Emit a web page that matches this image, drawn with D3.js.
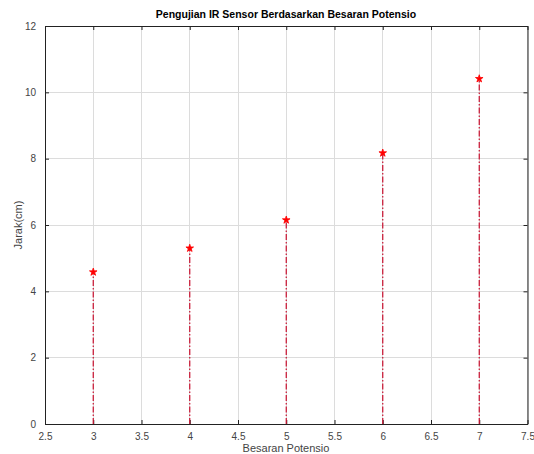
<!DOCTYPE html>
<html><head><meta charset="utf-8">
<script src="https://cdn.jsdelivr.net/npm/d3@7"></script>
<style>body{margin:0;background:#fff;}svg{display:block;}</style>
</head><body>
<script>
const xValues = [3, 4, 5, 6, 7];
const yValues = [4.58, 5.3, 6.15, 8.17, 10.41];
const xTicks = [2.5, 3, 3.5, 4, 4.5, 5, 5.5, 6, 6.5, 7, 7.5];
const yTicks = [0, 2, 4, 6, 8, 10, 12];
const titleText = "Pengujian IR Sensor Berdasarkan Besaran Potensio";
const xLabel = "Besaran Potensio";
const yLabel = "Jarak(cm)";

const W = 534, H = 454;
const m = {left: 45, right: 6.5, top: 26, bottom: 30};
const svg = d3.select("body").append("svg").attr("width", W).attr("height", H);
const x = d3.scaleLinear().domain([2.5, 7.5]).range([m.left, W - m.right]);
const y = d3.scaleLinear().domain([0, 12]).range([H - m.bottom, m.top]);
const font = "Liberation Sans, Arial, sans-serif";

// grid
svg.append("g").selectAll("line").data(xTicks).join("line")
  .attr("x1", d => x(d)).attr("x2", d => x(d)).attr("y1", y(0)).attr("y2", y(12))
  .attr("stroke", "#dcdcdc").attr("stroke-width", 1).attr("shape-rendering", "crispEdges");
svg.append("g").selectAll("line").data(yTicks).join("line")
  .attr("y1", d => y(d)).attr("y2", d => y(d)).attr("x1", x(2.5)).attr("x2", x(7.5))
  .attr("stroke", "#dcdcdc").attr("stroke-width", 1).attr("shape-rendering", "crispEdges");

// axes (ticks inward)
const axB = svg.append("g").attr("transform", `translate(0,${y(0)})`)
  .call(d3.axisBottom(x).tickValues(xTicks).tickSizeInner(-4).tickSizeOuter(0).tickPadding(9).tickFormat(d3.format("")));
const axT = svg.append("g").attr("transform", `translate(0,${y(12)})`)
  .call(d3.axisTop(x).tickValues(xTicks).tickSizeInner(-4).tickSizeOuter(0).tickFormat(""));
const axL = svg.append("g").attr("transform", `translate(${x(2.5)},0)`)
  .call(d3.axisLeft(y).tickValues(yTicks).tickSizeInner(-4).tickSizeOuter(0).tickPadding(9));
const axR = svg.append("g").attr("transform", `translate(${x(7.5)},0)`)
  .call(d3.axisRight(y).tickValues(yTicks).tickSizeInner(-4).tickSizeOuter(0).tickFormat(""));
[axB, axT, axL, axR].forEach(g => {
  g.selectAll("path").attr("stroke", "#222").attr("stroke-width", 1);
  g.selectAll("line").attr("stroke", "#222");
  g.selectAll("text").attr("font-family", font).attr("font-size", 10).attr("fill", "#444");
});

// stems
svg.append("g").selectAll("line").data(xValues).join("line")
  .attr("x1", d => x(d)).attr("x2", d => x(d))
  .attr("y1", y(0)).attr("y2", (d, i) => y(yValues[i]))
  .attr("stroke", "#c8102e").attr("stroke-width", 1.2)
  .attr("stroke-dasharray", "6,2,1.5,2");

// pentagram markers
const star = d3.symbol().type(d3.symbolStar).size(18);
svg.append("g").selectAll("path").data(xValues).join("path")
  .attr("d", star)
  .attr("transform", (d, i) => `translate(${x(d)},${y(yValues[i])})`)
  .attr("fill", "#ff0000").attr("stroke", "#ff0000").attr("stroke-width", 0.8);

// title and labels
svg.append("text").attr("x", 286).attr("y", 18).attr("text-anchor", "middle")
  .attr("font-family", font).attr("font-size", 10.5).attr("font-weight", "bold").attr("fill", "#000")
  .text(titleText);
svg.append("text").attr("x", 286).attr("y", 452).attr("text-anchor", "middle")
  .attr("font-family", font).attr("font-size", 11).attr("fill", "#444").text(xLabel);
svg.append("text").attr("transform", `translate(22,${(y(0)+y(12))/2}) rotate(-90)`).attr("text-anchor", "middle")
  .attr("font-family", font).attr("font-size", 11).attr("fill", "#444").text(yLabel);
</script>
</body></html>
